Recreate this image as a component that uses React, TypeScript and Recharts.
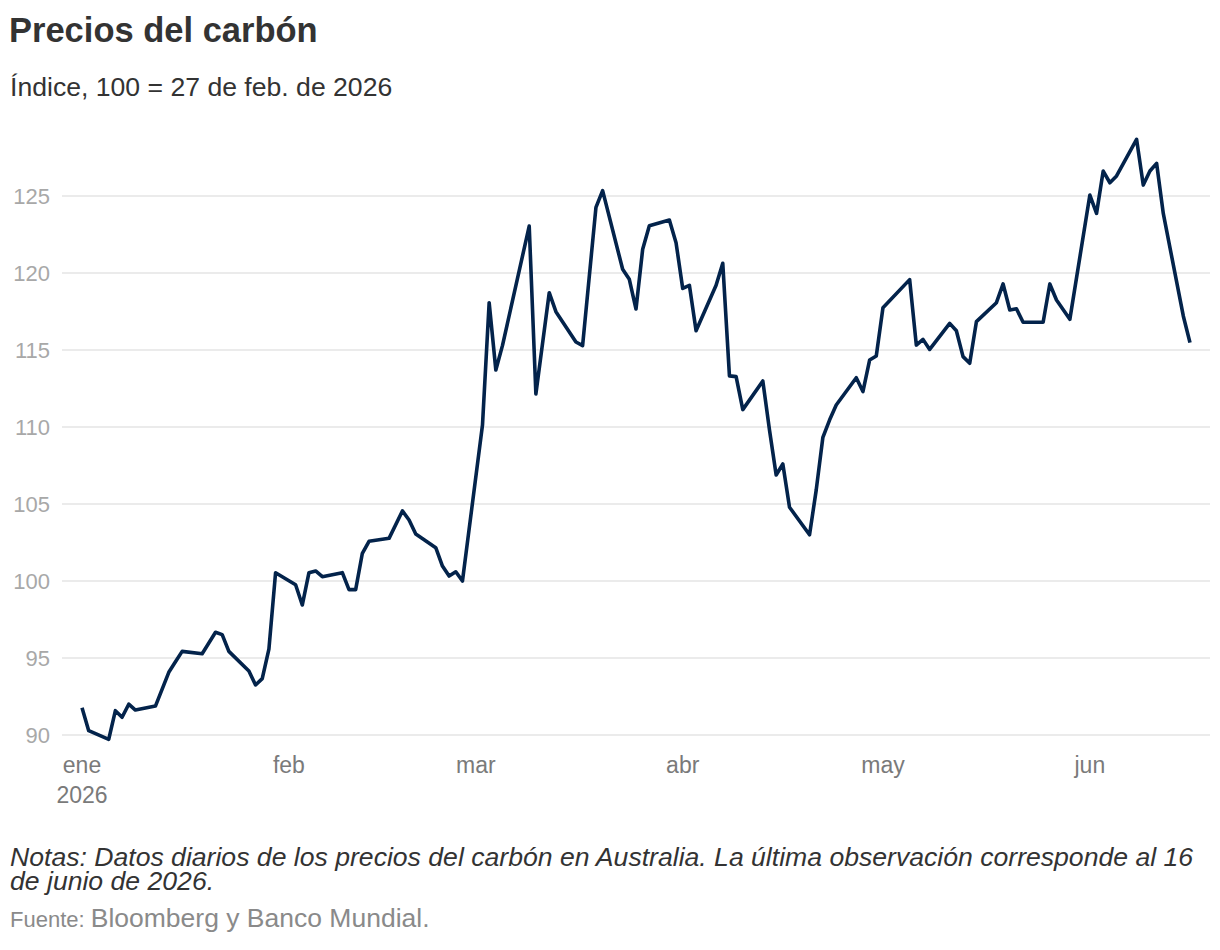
import React from "react";
import { LineChart, Line, XAxis, YAxis, CartesianGrid } from "recharts";

// Day index counted from 1 Jan 2026 (0 = 1 ene)
const days = [
  0, 1, 4, 5, 6, 7, 8, 11, 13, 14, 15, 18, 20, 21, 22, 25, 26, 27, 28, 29,
  32, 33, 34, 35, 36, 39, 40, 41, 42, 43, 46, 48, 49, 50, 53, 54, 55, 56, 57,
  60, 61, 62, 63, 67, 68, 70, 71, 74, 75, 77, 78, 81, 82, 83, 84, 85, 88, 89,
  90, 91, 92, 95, 96, 97, 98, 99, 102, 103, 104, 105, 106, 109, 110, 111, 112,
  113, 116, 117, 118, 119, 120, 124, 125, 126, 127, 130, 131, 132, 133, 134,
  137, 138, 139, 140, 141, 144, 145, 146, 148, 151, 152, 153, 154, 155, 158,
  159, 160, 161, 162, 165, 166,
];

const values = [
  91.77, 90.28, 89.72, 91.58, 91.15, 92.0, 91.62, 91.88, 94.07, 94.76, 95.43,
  95.28, 96.67, 96.52, 95.43, 94.16, 93.25, 93.66, 95.58, 100.54,
  99.76, 98.44, 100.54, 100.65, 100.28, 100.54, 99.44, 99.44, 101.8, 102.58,
  102.77, 104.55, 103.96, 103.05, 102.16, 100.97, 100.32, 100.6, 100.0,
  110.13, 118.07, 113.7, 115.3, 123.05, 112.14, 118.72, 117.49, 115.52, 115.28,
  124.26, 125.35, 120.24, 119.59, 117.66, 121.54, 123.07, 123.44, 121.97,
  119.0, 119.2, 116.25, 119.2, 120.63, 113.32, 113.27, 111.13, 112.99, 109.81,
  106.88, 107.6, 104.79, 103.0, 105.9, 109.33, 110.45,
  111.43, 113.2, 112.3, 114.35, 114.61, 117.75, 119.57, 115.32, 115.69, 115.04,
  116.73, 116.25, 114.57, 114.14, 116.84,
  118.07, 119.29, 117.6, 117.68, 116.8, 116.8, 119.29, 118.25, 116.99, 125.06,
  123.87, 126.62, 125.86, 126.3, 128.68,
  125.71, 126.62, 127.12, 123.87, 117.21, 115.48,
];

const monthTicks = [0, 31, 59, 90, 120, 151];
const monthLabels = ["ene", "feb", "mar", "abr", "may", "jun"];
const yearLabel = "2026";
const yTicks = [90, 95, 100, 105, 110, 115, 120, 125];

const data = days.map((d, i) => ({ day: d, value: values[i] }));

const FONT = "'Liberation Sans', Arial, Helvetica, sans-serif";

const XTick = (props: any) => {
  const { x, payload } = props;
  const idx = monthTicks.indexOf(payload.value);
  return (
    <g>
      <text x={x} y={773} textAnchor="middle" fontSize={23} fill="#7a7a7a" fontFamily={FONT}>
        {monthLabels[idx]}
      </text>
      {idx === 0 && (
        <text x={x} y={803} textAnchor="middle" fontSize={23} fill="#7a7a7a" fontFamily={FONT}>
          {yearLabel}
        </text>
      )}
    </g>
  );
};

const YTick = (props: any) => {
  const { y, payload } = props;
  return (
    <text x={50} y={y} dy="0.36em" textAnchor="end" fontSize={22} fill="#a8a8a8" fontFamily={FONT}>
      {payload.value}
    </text>
  );
};

export default function App() {
  return (
    <div style={{ position: "relative", width: 1220, height: 950, background: "#fff" }}>
      <style>{"body{margin:0;background:#fff}"}</style>
      <div style={{ position: "absolute", left: 0, top: 0 }}>
        <LineChart
          width={1220}
          height={840}
          data={data}
          margin={{ top: 126.7, right: 10, bottom: 37.3, left: 0 }}
        >
          <CartesianGrid
            vertical={false}
            horizontalValues={yTicks}
            stroke="#e4e4e4"
            strokeWidth={1.5}
          />
          <XAxis
            dataKey="day"
            type="number"
            domain={[-3, 169]}
            ticks={monthTicks}
            tick={<XTick />}
            axisLine={false}
            tickLine={false}
            height={60}
            interval={0}
            allowDataOverflow
          />
          <YAxis
            type="number"
            domain={[89.5, 129.5]}
            ticks={yTicks}
            tick={<YTick />}
            axisLine={false}
            tickLine={false}
            width={62}
            interval={0}
            allowDataOverflow
          />
          <Line
            type="linear"
            dataKey="value"
            stroke="#03234b"
            strokeWidth={3.6}
            strokeLinejoin="round"
            dot={false}
            activeDot={false}
            isAnimationActive={false}
          />
        </LineChart>
      </div>
      <svg
        width={1220}
        height={950}
        style={{ position: "absolute", left: 0, top: 0, pointerEvents: "none" }}
      >
        <text x={9} y={42} fontSize={34.5} fontWeight="bold" fill="#333333" fontFamily={FONT}>
          Precios del carbón
        </text>
        <text x={10} y={96} fontSize={26.6} fill="#333333" fontFamily={FONT}>
          Índice, 100 = 27 de feb. de 2026
        </text>
        <text x={10} y={866} fontSize={26.6} fontStyle="italic" fill="#333333" fontFamily={FONT}>
          Notas: Datos diarios de los precios del carbón en Australia. La última observación corresponde al 16
        </text>
        <text x={10} y={890} fontSize={26.6} fontStyle="italic" fill="#333333" fontFamily={FONT}>
          de junio de 2026.
        </text>
        <text x={10} y={927} fill="#8a8a8a" fontFamily={FONT}>
          <tspan fontSize={22}>Fuente: </tspan>
          <tspan fontSize={26.5}>Bloomberg y Banco Mundial.</tspan>
        </text>
      </svg>
    </div>
  );
}
